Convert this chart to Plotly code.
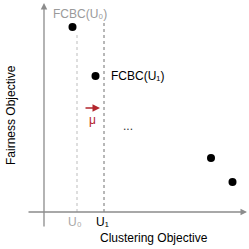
import plotly.graph_objects as go

# Data (abstract units; origin at axes crossing)
clustering = [28.5, 51.5, 167, 188.5]
fairness = [185, 136, 54, 30]
u_ticks = [33, 60]
u_labels = ["U₀", "U₁"]

FONT = "Liberation Sans, Arial, sans-serif"
fig = go.Figure()
fig.add_trace(go.Scatter(x=clustering, y=fairness, mode="markers",
                         marker=dict(color="black", size=8), hoverinfo="skip"))

X0, Y0 = 44, 212  # pixel location of origin
fig.update_layout(
    width=249, height=249, margin=dict(l=0, r=0, t=0, b=0),
    paper_bgcolor="white", plot_bgcolor="white", showlegend=False,
    xaxis=dict(range=[-X0, 249 - X0], visible=False, fixedrange=True),
    yaxis=dict(range=[Y0 - 249, Y0], visible=False, fixedrange=True),
)

axc = "#8c8c8c"
# dashed verticals
fig.add_shape(type="line", x0=u_ticks[0], x1=u_ticks[0], y0=0, y1=fairness[0] - 6,
              line=dict(color="#bdbdbd", width=1, dash="dot"))
fig.add_shape(type="line", x0=u_ticks[1], x1=u_ticks[1], y0=0, y1=fairness[0] + 4,
              line=dict(color="#707070", width=1, dash="dot"))
# axes lines with arrows
fig.add_annotation(x=0, y=Y0 - 3, ax=0, ay=-16, xref="x", yref="y", axref="x", ayref="y",
                   showarrow=True, arrowhead=2, arrowsize=1, arrowwidth=1.3, arrowcolor=axc, text="")
fig.add_annotation(x=203, y=0, ax=-17, ay=0, xref="x", yref="y", axref="x", ayref="y",
                   showarrow=True, arrowhead=2, arrowsize=1, arrowwidth=1.3, arrowcolor=axc, text="")
# mu arrow
fig.add_annotation(x=56, y=104, ax=40, ay=104, xref="x", yref="y", axref="x", ayref="y",
                   showarrow=True, arrowhead=2, arrowsize=1, arrowwidth=1.5, arrowcolor="#b3262d", text="")

def txt(x, y, s, color="black", size=12, angle=0, anchor="center"):
    fig.add_annotation(x=x, y=y, xref="x", yref="y", text=s, showarrow=False, textangle=angle,
                       xanchor=anchor, font=dict(family=FONT, size=size, color=color))

txt(7, 198, "FCBC(U₀)", color="#9a9a9a", anchor="left")
txt(65, 136, "FCBC(U₁)", anchor="left")
txt(48, 92, "μ", color="#b3262d")
txt(84, 86, "...", color="#333333")
txt(u_ticks[0] - 2, -10, u_labels[0], color="#a8a8a8")
txt(u_ticks[1] - 2, -10, u_labels[1])
txt(110, -26, "Clustering Objective")
txt(-33, 97, "Fairness Objective", angle=-90)

fig.write_html("out.html", config={"displayModeBar": False, "staticPlot": True})
with open("out.html", encoding="utf-8") as f:
    html = f.read()
html = html.replace("<head>", "<head><style>html,body{margin:0;padding:0;overflow:hidden}</style>", 1)
with open("out.html", "w", encoding="utf-8") as f:
    f.write(html)
